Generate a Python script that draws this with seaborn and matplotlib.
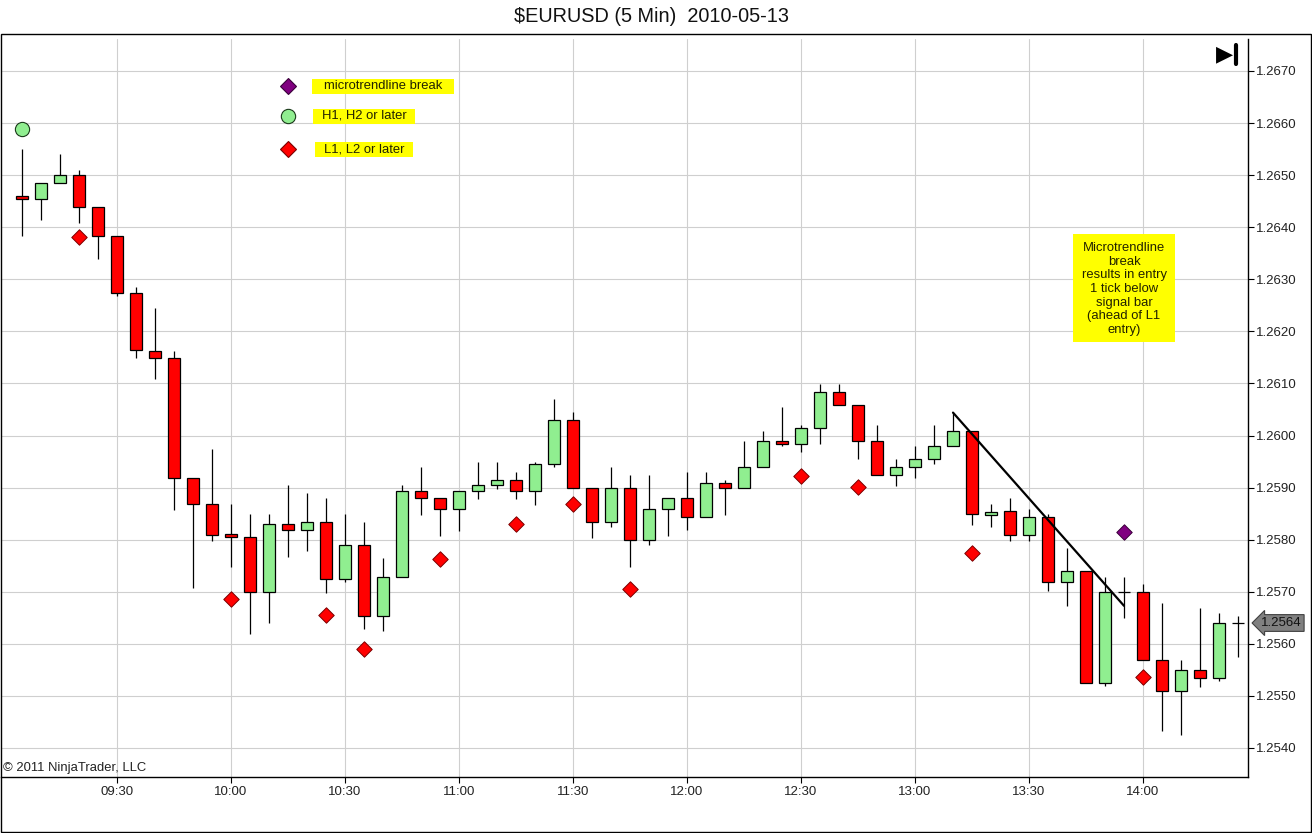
import pandas as pd
import matplotlib
matplotlib.use("Agg")
import matplotlib.pyplot as plt
import matplotlib.dates as mdates
import matplotlib.transforms as mtransforms
from matplotlib.patches import Rectangle
from matplotlib.lines import Line2D
import seaborn as sns

# 5 minute bars, $EURUSD 2010-05-13, first bar stamped 09:05
first_bar = "2010-05-13 09:05"
n_bars = 65

opens = [1.26460, 1.26454, 1.26484, 1.26500, 1.26438, 1.26384, 1.26273, 1.26163, 1.26148, 1.25918,
         1.25868, 1.25810, 1.25805, 1.25699, 1.25830, 1.25818, 1.25834, 1.25724, 1.25789, 1.25653,
         1.25728, 1.25893, 1.25880, 1.25859, 1.25893, 1.25905, 1.25914, 1.25893, 1.25945, 1.26030,
         1.25899, 1.25834, 1.25899, 1.25799, 1.25859, 1.25880, 1.25843, 1.25908, 1.25899, 1.25939,
         1.25989, 1.25984, 1.26014, 1.26083, 1.26058, 1.25989, 1.25924, 1.25939, 1.25955, 1.25980,
         1.26009, 1.25848, 1.25855, 1.25809, 1.25843, 1.25718, 1.25739, 1.25524, 1.25699, 1.25699,
         1.25569, 1.25509, 1.25549, 1.25534, 1.25640]
highs = [1.26550, 1.26484, 1.26541, 1.26510, 1.26438, 1.26384, 1.26285, 1.26244, 1.26163, 1.25918,
         1.25974, 1.25869, 1.25849, 1.25849, 1.25905, 1.25889, 1.25880, 1.25849, 1.25834, 1.25764,
         1.25905, 1.25939, 1.25880, 1.25893, 1.25949, 1.25949, 1.25930, 1.25949, 1.26070, 1.26045,
         1.25899, 1.25939, 1.25924, 1.25924, 1.25880, 1.25930, 1.25930, 1.25915, 1.25990, 1.26009,
         1.26055, 1.26020, 1.26099, 1.26099, 1.26058, 1.26020, 1.25955, 1.25980, 1.26020, 1.26044,
         1.26009, 1.25869, 1.25880, 1.25859, 1.25849, 1.25784, 1.25739, 1.25728, 1.25728, 1.25715,
         1.25678, 1.25569, 1.25669, 1.25659, 1.25654]
lows = [1.26384, 1.26413, 1.26484, 1.26409, 1.26338, 1.26268, 1.26149, 1.26108, 1.25857, 1.25708,
        1.25798, 1.25748, 1.25618, 1.25640, 1.25767, 1.25779, 1.25698, 1.25718, 1.25628, 1.25624,
        1.25728, 1.25848, 1.25808, 1.25817, 1.25879, 1.25898, 1.25879, 1.25867, 1.25939, 1.25899,
        1.25804, 1.25824, 1.25748, 1.25789, 1.25808, 1.25818, 1.25843, 1.25848, 1.25899, 1.25939,
        1.25979, 1.25969, 1.25983, 1.26058, 1.25955, 1.25924, 1.25904, 1.25918, 1.25945, 1.25980,
        1.25829, 1.25824, 1.25798, 1.25798, 1.25702, 1.25673, 1.25524, 1.25519, 1.25649, 1.25569,
        1.25433, 1.25424, 1.25518, 1.25529, 1.25574]
closes = [1.26455, 1.26484, 1.26500, 1.26438, 1.26384, 1.26273, 1.26164, 1.26148, 1.25918, 1.25868,
          1.25809, 1.25805, 1.25699, 1.25830, 1.25818, 1.25834, 1.25724, 1.25789, 1.25653, 1.25728,
          1.25893, 1.25880, 1.25859, 1.25893, 1.25905, 1.25914, 1.25893, 1.25945, 1.26030, 1.25899,
          1.25834, 1.25899, 1.25799, 1.25859, 1.25880, 1.25843, 1.25908, 1.25899, 1.25939, 1.25989,
          1.25984, 1.26014, 1.26083, 1.26058, 1.25989, 1.25924, 1.25939, 1.25955, 1.25980, 1.26009,
          1.25849, 1.25854, 1.25809, 1.25843, 1.25718, 1.25739, 1.25524, 1.25699, 1.25699, 1.25569,
          1.25509, 1.25549, 1.25534, 1.25640, 1.25640]

# signal markers (bar index, price)
l_signal_bars = [3, 11, 16, 18, 22, 26, 29, 32, 41, 44, 50, 59]
l_signal_prices = [1.26382, 1.25686, 1.25655, 1.25590, 1.25762, 1.25830, 1.25868, 1.25706,
                   1.25922, 1.25901, 1.25774, 1.25536]
h_signal_bars = [0]
h_signal_prices = [1.26588]
break_bars = [58]
break_prices = [1.25814]

# microtrendline drawn by hand on the chart
trend_bars = [49, 58]
trend_prices = [1.26044, 1.25673]

legend_labels = ["microtrendline break", "H1, H2 or later", "L1, L2 or later"]
note_text = "Microtrendline\nbreak\nresults in entry\n1 tick below\nsignal bar\n(ahead of L1\nentry)"
title = "$EURUSD (5 Min)  2010-05-13"

UP = "#90ee90"
DOWN = "#ff0000"
GRID = "#cfcfcf"

sns.set_style("whitegrid", {"grid.color": GRID, "axes.edgecolor": "black"})
plt.rcParams["font.family"] = ["Liberation Sans", "DejaVu Sans"]

times = pd.date_range(first_bar, periods=n_bars, freq="5min")
bars = pd.DataFrame({"time": times, "open": opens, "high": highs, "low": lows, "close": closes})

def signal_frame(idx, prices):
    return pd.DataFrame({"time": times[idx], "price": prices})

l_sig = signal_frame(l_signal_bars, l_signal_prices)
h_sig = signal_frame(h_signal_bars, h_signal_prices)
brk = signal_frame(break_bars, break_prices)
trend = signal_frame(trend_bars, trend_prices)

W, H = 1312, 833
fig = plt.figure(figsize=(W / 100, H / 100), dpi=100)
ax = fig.add_axes([1 / W, (H - 777) / H, 1247 / W, 738 / H])

# wicks
ax.vlines(bars["time"], bars["low"], bars["high"], color="black", lw=0.9, zorder=2)

# bodies
body_w = pd.Timedelta(minutes=3.25) / pd.Timedelta(days=1)
bottoms = bars[["open", "close"]].min(axis=1)
heights = (bars["close"] - bars["open"]).abs()
colors = [UP if c >= o else DOWN for o, c in zip(bars["open"], bars["close"])]
ax.bar(mdates.date2num(bars["time"]), heights, width=body_w, bottom=bottoms,
       color=colors, edgecolor="black", linewidth=0.9, zorder=3)

# signals
sns.scatterplot(data=l_sig, x="time", y="price", marker="D", color=DOWN, edgecolor="#7a0000",
                linewidth=0.7, s=62, ax=ax, legend=False, zorder=4)
sns.scatterplot(data=h_sig, x="time", y="price", marker="o", color=UP, edgecolor="#1a3a1a",
                linewidth=0.8, s=105, ax=ax, legend=False, zorder=4)
sns.scatterplot(data=brk, x="time", y="price", marker="D", color="#800080", edgecolor="#3a003a",
                linewidth=0.7, s=62, ax=ax, legend=False, zorder=4)
sns.lineplot(data=trend, x="time", y="price", color="black", lw=1.6, ax=ax, zorder=5)

# axes, scales
ax.set_xlim(times[0] - pd.Timedelta(minutes=5.53), times[0] + pd.Timedelta(minutes=322.63))
ax.set_ylim(1.253443, 1.267614)
half_hours = bars["time"][bars["time"].dt.minute % 30 == 0]
ax.set_xticks(mdates.date2num(half_hours))
ax.xaxis.set_major_formatter(mdates.DateFormatter("%H:%M"))
ax.yaxis.set_major_locator(plt.MultipleLocator(0.001))
ax.yaxis.set_major_formatter(plt.FormatStrFormatter("%.4f"))
ax.yaxis.tick_right()
ax.set_xlabel("")
ax.set_ylabel("")
ax.grid(True, color=GRID, lw=0.8)
ax.tick_params(axis="both", which="major", length=4.5, width=0.8, color="black",
               labelsize=9.5, labelcolor="#222222", pad=1.5)
ax.tick_params(axis="x", bottom=True, pad=2)
ax.tick_params(axis="y", right=True, left=False)
for side in ["left", "top"]:
    ax.spines[side].set_visible(False)
for side in ["right", "bottom"]:
    ax.spines[side].set_color("black")
    ax.spines[side].set_linewidth(1.0)

ax.text(0.0015, 0.004, "\u00a9 2011 NinjaTrader, LLC", transform=ax.transAxes,
        fontsize=9.4, va="bottom", ha="left", color="#222222")

# last price marker on the price axis
blend = mtransforms.blended_transform_factory(ax.transAxes, ax.transData)
ax.text(1.0105, closes[-1], f"{closes[-1]:.4f}", transform=blend, fontsize=9.5,
        va="center", ha="left", color="#111111", zorder=6, clip_on=False,
        bbox=dict(boxstyle="larrow,pad=0.18", fc="#808080", ec="#404040", lw=0.8))

# figure chrome
def fx(px):
    return px / W

def fy(py):
    return 1 - py / H

fig.add_artist(Rectangle((fx(0.5), fy(832)), fx(1310), (832 - 34) / H, transform=fig.transFigure,
                         fill=False, ec="black", lw=1.0))
fig.text(fx(651), fy(17), title, ha="center", va="center", fontsize=14.3, color="#111111")

# go-to-end button
fig.text(fx(1225), fy(54), "\u25b6", ha="center", va="center", fontsize=16,
         family="DejaVu Sans", color="black")
fig.add_artist(Line2D([fx(1236), fx(1236)], [fy(45), fy(64)], transform=fig.transFigure,
                      color="black", lw=3))

# legend drawn on the chart
legend_rows = [(86, "D", "#800080", "#3a003a", 8.0, 312, 454),
               (116, "o", UP, "#1a3a1a", 10.3, 313, 415),
               (149, "D", DOWN, "#7a0000", 8.0, 315, 413)]
for (py, mk, fc, ec, ms, bx0, bx1), label in zip(legend_rows, legend_labels):
    fig.add_artist(Line2D([fx(288)], [fy(py)], transform=fig.transFigure, marker=mk, ms=ms,
                          mfc=fc, mec=ec, mew=0.8, ls="none"))
    fig.add_artist(Rectangle((fx(bx0), fy(py + 7.5)), fx(bx1 - bx0), 15 / H,
                             transform=fig.transFigure, fc="yellow", ec="none"))
    fig.text(fx((bx0 + bx1) / 2), fy(py), label, ha="center", va="center",
             fontsize=9.4, color="#222200")

fig.add_artist(Rectangle((fx(1073), fy(342)), fx(102), 108 / H, transform=fig.transFigure,
                         fc="yellow", ec="none"))
fig.text(fx(1124), fy(289), note_text, ha="center", va="center", fontsize=9.4,
         linespacing=1.17, color="#222200")

fig.savefig("out.png", dpi=100)
